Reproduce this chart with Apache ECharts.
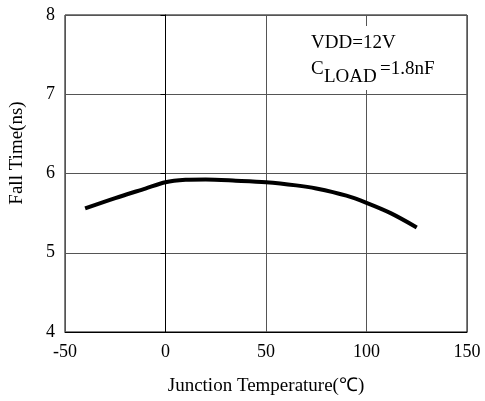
<!DOCTYPE html>
<html>
<head>
<meta charset="utf-8">
<script src="https://cdn.jsdelivr.net/npm/echarts@6/dist/echarts.min.js"></script>
<style>
html,body{margin:0;padding:0;background:#fff;}
#chart{width:485px;height:401px;}
</style>
</head>
<body>
<div id="chart"></div>
<script>
const temperatures = [-40, -25, -10, 0, 10, 20, 35, 50, 65, 75, 90, 100, 112, 125];
const fallTimes = [5.56, 5.69, 5.81, 5.89, 5.92, 5.925, 5.91, 5.89, 5.85, 5.81, 5.72, 5.63, 5.50, 5.32];
const xTicks = [-50, 0, 50, 100, 150];
const yTicks = [4, 5, 6, 7, 8];
const xTitle = 'Junction Temperature(\u2103)';
const yTitle = 'Fall Time(ns)';
const noteLine1 = 'VDD=12V';
const noteSub = 'LOAD';
const noteValue = '=1.8nF';

const font = '"Liberation Serif", "Times New Roman", serif';
const chart = echarts.init(document.getElementById('chart'), null, {renderer: 'canvas'});
chart.setOption({
  animation: false,
  backgroundColor: '#fff',
  grid: {left: 64, right: 18, top: 15, bottom: 68, show: true, borderColor: '#000', borderWidth: 1},
  xAxis: {
    type: 'value', min: xTicks[0], max: xTicks[xTicks.length - 1], interval: 50,
    name: xTitle, nameLocation: 'middle', nameGap: 45,
    nameTextStyle: {fontFamily: font, fontSize: 19, color: '#000'},
    axisLine: {lineStyle: {color: '#000', width: 1}},
    axisTick: {show: false},
    axisLabel: {fontFamily: font, fontSize: 18, color: '#000', margin: 11},
    splitLine: {show: true, lineStyle: {color: '#555', width: 1}}
  },
  yAxis: {
    type: 'value', min: yTicks[0], max: yTicks[yTicks.length - 1], interval: 1,
    name: yTitle, nameLocation: 'middle', nameGap: 38,
    nameTextStyle: {fontFamily: font, fontSize: 19, color: '#000', padding: [0, 0, 0, 41]},
    axisLine: {show: true, lineStyle: {color: '#000', width: 1}},
    axisTick: {show: true, length: 5, lineStyle: {color: '#000'}},
    axisLabel: {fontFamily: font, fontSize: 18, color: '#000', margin: 10},
    splitLine: {show: true, lineStyle: {color: '#555', width: 1}}
  },
  graphic: [
    {type: 'rect', z: 100, shape: {x: 305, y: 26, width: 156, height: 64}, style: {fill: '#fff'}},
    {type: 'text', z: 101, x: 311, y: 34, style: {text: noteLine1, font: '19px ' + font, fill: '#000'}},
    {type: 'text', z: 101, x: 311, y: 60, style: {text: 'C', font: '19px ' + font, fill: '#000'}},
    {type: 'text', z: 101, x: 324, y: 68, style: {text: noteSub, font: '19px ' + font, fill: '#000'}},
    {type: 'text', z: 101, x: 380, y: 60, style: {text: noteValue, font: '19px ' + font, fill: '#000'}}
  ],
  series: [{
    type: 'line',
    data: temperatures.map((t, i) => [t, fallTimes[i]]),
    smooth: 0.3,
    showSymbol: false,
    lineStyle: {color: '#000', width: 4},
    z: 5
  }]
});
</script>
</body>
</html>
